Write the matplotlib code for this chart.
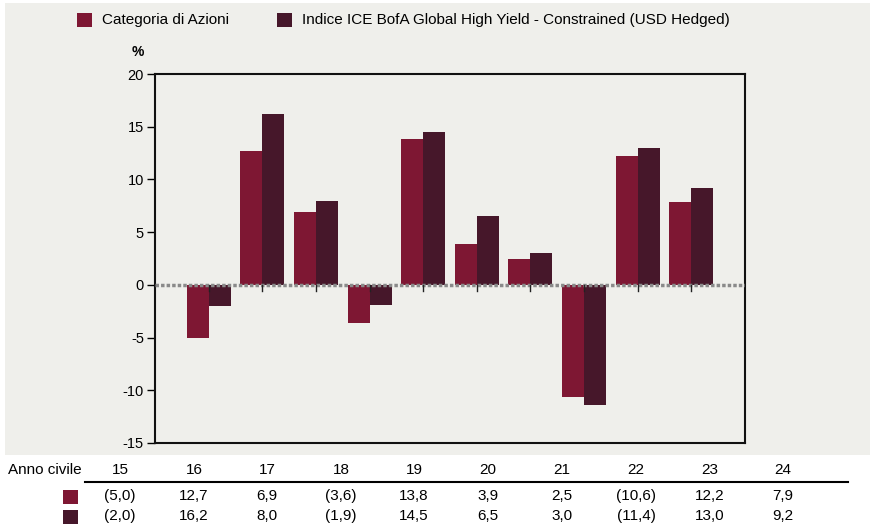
import matplotlib.pyplot as plt
from matplotlib.patches import Rectangle
import numpy as np

plt.rcParams['font.family'] = ['Liberation Sans', 'DejaVu Sans']

years = ['15', '16', '17', '18', '19', '20', '21', '22', '23', '24']
fund = [-5.0, 12.7, 6.9, -3.6, 13.8, 3.9, 2.5, -10.6, 12.2, 7.9]
index = [-2.0, 16.2, 8.0, -1.9, 14.5, 6.5, 3.0, -11.4, 13.0, 9.2]
fund_name = 'Categoria di Azioni'
index_name = 'Indice ICE BofA Global High Yield - Constrained (USD Hedged)'

RED = '#7e1733'
DARK = '#46172a'
BG = '#efefeb'

W, H = 875, 530
fig = plt.figure(figsize=(W / 100, H / 100), dpi=100)
fig.patch.set_facecolor('white')


def fx(px):
    return px / W


def fy(py):
    return 1 - py / H


# grey panel behind legend and chart
fig.patches.append(Rectangle((fx(5), fy(455)), fx(870) - fx(5), fy(3) - fy(455),
                             transform=fig.transFigure, facecolor=BG,
                             edgecolor='none', zorder=-5))

ax = fig.add_axes([fx(155), fy(443), fx(745) - fx(155), fy(74) - fy(443)])
ax.set_facecolor(BG)
ax.set_zorder(2)

x = np.arange(len(years))
bw = 0.41
ax.bar(x - bw / 2, fund, bw, color=RED, edgecolor='none', zorder=2)
ax.bar(x + bw / 2, index, bw, color=DARK, edgecolor='none', zorder=2)
ax.axhline(0, color='#8a8a8a', lw=2.5, ls=(0, (1, 0.6)), zorder=3)
for xi in x:
    ax.plot([xi, xi], [0, -0.6], color='#222222', lw=1, zorder=4)

ax.set_xlim(-1, 10)
ax.set_ylim(-15, 20)
ax.set_yticks([-15, -10, -5, 0, 5, 10, 15, 20])
ax.set_yticklabels(['-15', '-10', '-5', '0', '5', '10', '15', '20'])
ax.set_xticks([])
ax.tick_params(axis='y', length=6, width=1, labelsize=10.5, pad=2)
for s in ax.spines.values():
    s.set_linewidth(1.5)
    s.set_color('#111111')

fig.text(fx(138), fy(52), '%', fontsize=10, fontweight='bold', ha='center', va='center')

# legend
for sx, label in [(77, fund_name), (277, index_name)]:
    col = RED if sx == 77 else DARK
    fig.patches.append(Rectangle((fx(sx), fy(27)), fx(15), fy(13) - fy(27),
                                 transform=fig.transFigure, facecolor=col,
                                 edgecolor='none'))
    fig.text(fx(sx + 25), fy(20), label, fontsize=11, ha='left', va='center')

# table below the chart
col_x = [120, 194, 267, 341, 414, 488, 562, 636, 710, 783]
fig.text(fx(8), fy(470), 'Anno civile', fontsize=11, ha='left', va='center')
fig.add_artist(plt.Line2D([fx(85), fx(848)], [fy(482), fy(482)],
                          transform=fig.transFigure, color='black', lw=1.5))


def fmt(v):
    s = f'{abs(v):.1f}'.replace('.', ',')
    return f'({s})' if v < 0 else s


for cx, yr, a, b in zip(col_x, years, fund, index):
    fig.text(fx(cx), fy(470), yr, fontsize=11, ha='center', va='center')
    fig.text(fx(cx), fy(496), fmt(a), fontsize=11, ha='center', va='center')
    fig.text(fx(cx), fy(516), fmt(b), fontsize=11, ha='center', va='center')

for ry, col in [(490, RED), (510, DARK)]:
    fig.patches.append(Rectangle((fx(63), fy(ry + 14)), fx(15), fy(ry) - fy(ry + 14),
                                 transform=fig.transFigure, facecolor=col,
                                 edgecolor='none'))

fig.savefig('out.png', dpi=100, facecolor=fig.get_facecolor())
